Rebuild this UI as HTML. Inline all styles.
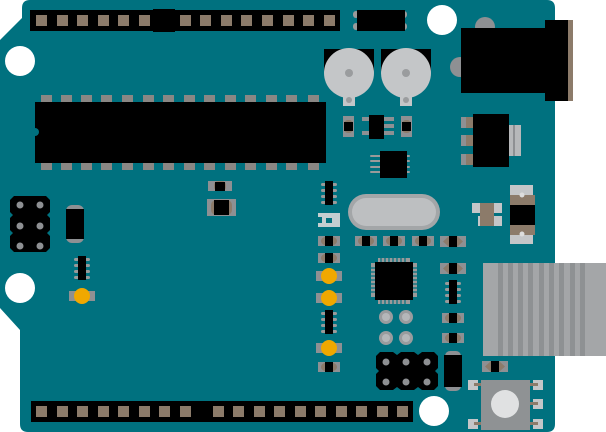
<!DOCTYPE html>
<html><head><meta charset="utf-8"><style>html,body{margin:0;padding:0;background:#fff}svg{display:block}</style></head><body>
<svg width="606" height="432" viewBox="0 0 606 432" xmlns="http://www.w3.org/2000/svg">
<defs>
<g id="pad"><rect x="0" y="0" width="11" height="11" fill="#8c7b6a"/></g>
<g id="res"><rect x="-11" y="-5" width="22" height="10" fill="#8e9093"/><ellipse cx="0" cy="0" rx="8" ry="5" fill="#8c7b6a"/><rect x="-4" y="-5" width="8" height="10" fill="#000"/></g>
<g id="capw"><rect x="-13" y="-5" width="26" height="11" fill="#8e9093"/><path d="M-10 0.5 L-4 -5 L4 -5 L10 0.5 L4 6 L-4 6Z" fill="#8c7b6a"/><rect x="-4" y="-5" width="8" height="11" fill="#000"/></g>
<g id="so"><rect x="-8" y="-10" width="5" height="3" rx="1.5" fill="#9a9a9a"/><rect x="-8" y="-4" width="5" height="3" rx="1.5" fill="#9a9a9a"/><rect x="-8" y="2" width="5" height="3" rx="1.5" fill="#9a9a9a"/><rect x="-8" y="8" width="5" height="3" rx="1.5" fill="#9a9a9a"/><rect x="3" y="-10" width="5" height="3" rx="1.5" fill="#9a9a9a"/><rect x="3" y="-4" width="5" height="3" rx="1.5" fill="#9a9a9a"/><rect x="3" y="2" width="5" height="3" rx="1.5" fill="#9a9a9a"/><rect x="3" y="8" width="5" height="3" rx="1.5" fill="#9a9a9a"/><rect x="-4" y="-12" width="8" height="24" fill="#000"/></g>
<g id="led"><rect x="-13" y="-5" width="26" height="10" fill="#8e9093"/><circle cx="0" cy="0" r="8" fill="#f0a800"/></g>
</defs>
<!-- board -->
<path d="M30 0 L547 0 Q555 0 555 8 L555 424 Q555 432 547 432 L28 432 Q20 432 20 424 L20 330 L0 308 L0 40 L22 18 L22 8 Q22 0 30 0Z" fill="#00717f"/>
<!-- holes -->
<circle cx="20" cy="61" r="15" fill="#fff"/>
<circle cx="442" cy="20" r="15" fill="#fff"/>
<circle cx="20" cy="288" r="15" fill="#fff"/>
<circle cx="434" cy="411" r="15" fill="#fff"/>
<!-- top header -->
<rect x="30" y="10" width="310" height="21" fill="#000"/>
<rect x="153" y="9" width="22" height="23" fill="#000"/>
<g>
<use href="#pad" x="36" y="15"/><use href="#pad" x="57" y="15"/><use href="#pad" x="77" y="15"/><use href="#pad" x="98" y="15"/><use href="#pad" x="118" y="15"/><use href="#pad" x="139" y="15"/>
<use href="#pad" x="180" y="15"/><use href="#pad" x="200" y="15"/><use href="#pad" x="221" y="15"/><use href="#pad" x="241" y="15"/><use href="#pad" x="262" y="15"/><use href="#pad" x="283" y="15"/><use href="#pad" x="303" y="15"/><use href="#pad" x="324" y="15"/>
</g>
<!-- bottom header -->
<rect x="31" y="401" width="382" height="21" fill="#000"/>
<g>
<use href="#pad" x="36" y="406"/><use href="#pad" x="57" y="406"/><use href="#pad" x="77" y="406"/><use href="#pad" x="98" y="406"/><use href="#pad" x="118" y="406"/><use href="#pad" x="139" y="406"/><use href="#pad" x="159" y="406"/><use href="#pad" x="180" y="406"/>
<use href="#pad" x="213" y="406"/><use href="#pad" x="233" y="406"/><use href="#pad" x="254" y="406"/><use href="#pad" x="274" y="406"/><use href="#pad" x="295" y="406"/><use href="#pad" x="315" y="406"/><use href="#pad" x="336" y="406"/><use href="#pad" x="356" y="406"/><use href="#pad" x="377" y="406"/><use href="#pad" x="397" y="406"/>
</g>
<!-- top small part near header -->
<rect x="353" y="11" width="6" height="7" rx="3" fill="#9a9a9a"/><rect x="353" y="23" width="6" height="7" rx="3" fill="#9a9a9a"/>
<rect x="401" y="11" width="6" height="7" rx="3" fill="#9a9a9a"/><rect x="401" y="23" width="6" height="7" rx="3" fill="#9a9a9a"/>
<rect x="357" y="10" width="48" height="21" fill="#000"/>
<!-- main chip pins -->
<g fill="#8a8784">
<rect x="41" y="95" width="11" height="8"/><rect x="61" y="95" width="11" height="8"/><rect x="81" y="95" width="11" height="8"/><rect x="101" y="95" width="11" height="8"/><rect x="122" y="95" width="11" height="8"/><rect x="143" y="95" width="11" height="8"/><rect x="163" y="95" width="11" height="8"/><rect x="184" y="95" width="11" height="8"/><rect x="204" y="95" width="11" height="8"/><rect x="225" y="95" width="11" height="8"/><rect x="245" y="95" width="11" height="8"/><rect x="266" y="95" width="11" height="8"/><rect x="286" y="95" width="11" height="8"/><rect x="308" y="95" width="11" height="8"/>
<rect x="41" y="162" width="11" height="8"/><rect x="61" y="162" width="11" height="8"/><rect x="81" y="162" width="11" height="8"/><rect x="101" y="162" width="11" height="8"/><rect x="122" y="162" width="11" height="8"/><rect x="143" y="162" width="11" height="8"/><rect x="163" y="162" width="11" height="8"/><rect x="184" y="162" width="11" height="8"/><rect x="204" y="162" width="11" height="8"/><rect x="225" y="162" width="11" height="8"/><rect x="245" y="162" width="11" height="8"/><rect x="266" y="162" width="11" height="8"/><rect x="286" y="162" width="11" height="8"/><rect x="308" y="162" width="11" height="8"/>
</g>
<rect x="35" y="102" width="291" height="61" fill="#000"/>
<circle cx="35" cy="132" r="4" fill="#00717f"/>
<!-- capacitors -->
<rect x="324" y="49" width="50" height="22" fill="#000"/>
<rect x="381" y="49" width="50" height="22" fill="#000"/>
<rect x="343" y="92" width="12" height="14" fill="#c4c6c8"/><rect x="400" y="92" width="12" height="14" fill="#c4c6c8"/>
<circle cx="349" cy="73" r="25" fill="#c4c6c8"/><circle cx="349" cy="73" r="4" fill="#9a9c9e"/><circle cx="349" cy="100" r="3" fill="#9a9c9e"/>
<circle cx="406" cy="73" r="25" fill="#c4c6c8"/><circle cx="406" cy="73" r="4" fill="#9a9c9e"/><circle cx="406" cy="100" r="3" fill="#9a9c9e"/>
<!-- power jack -->
<circle cx="485" cy="27" r="10" fill="#8e9093"/>
<circle cx="460" cy="67" r="10" fill="#8e9093"/>
<rect x="461" y="28" width="84" height="65" fill="#000"/>
<rect x="545" y="20" width="23" height="81" fill="#000"/>
<rect x="568" y="20" width="5" height="81" fill="#8c7b6a"/>
<!-- regulator -->
<g fill="#8e9093"><rect x="461" y="117" width="12" height="11"/><rect x="461" y="135" width="12" height="11"/><rect x="461" y="154" width="12" height="11"/></g>
<g fill="#8c7b6a"><rect x="466" y="117" width="7" height="11"/><rect x="466" y="135" width="7" height="11"/><rect x="466" y="154" width="7" height="11"/></g>
<rect x="509" y="125" width="12" height="31" fill="#b6b8ba"/><rect x="513" y="125" width="2" height="31" fill="#8e9093"/>
<rect x="473" y="114" width="36" height="53" fill="#000"/>
<!-- small parts near caps -->
<rect x="343" y="116" width="11" height="21" fill="#8e9093"/><rect x="344" y="120" width="9" height="13" rx="4" fill="#8c7b6a"/><rect x="344" y="122" width="9" height="9" fill="#000"/>
<rect x="401" y="116" width="11" height="21" fill="#8e9093"/><rect x="402" y="120" width="9" height="13" rx="4" fill="#8c7b6a"/><rect x="402" y="122" width="9" height="9" fill="#000"/>
<g fill="#8e9093"><rect x="362" y="117" width="11" height="4"/><rect x="362" y="131" width="11" height="4"/><rect x="383" y="117" width="11" height="4"/><rect x="383" y="124" width="11" height="4"/><rect x="383" y="131" width="11" height="4"/></g>
<rect x="369" y="115" width="15" height="24" fill="#000"/>
<g fill="#9a9a9a"><rect x="370" y="155" width="40" height="2" rx="1"/><rect x="370" y="160" width="40" height="2" rx="1"/><rect x="370" y="166" width="40" height="2" rx="1"/><rect x="370" y="171" width="40" height="2" rx="1"/></g>
<rect x="380" y="151" width="27" height="27" fill="#000"/>
<!-- caps -->
<rect x="208" y="181" width="24" height="10" fill="#8e9093"/><rect x="214" y="181" width="12" height="10" rx="4" fill="#8c7b6a"/><rect x="215" y="182" width="10" height="9" fill="#000"/>
<rect x="207" y="199" width="29" height="17" fill="#8e9093"/><rect x="211" y="200" width="21" height="15" rx="5" fill="#8c7b6a"/><rect x="214" y="200" width="15" height="15" fill="#000"/>
<use href="#so" x="329" y="193"/>
<path d="M318 213 h22 v14 h-22 v-4 h4 v-6 h-4z" fill="#c4ced0"/><rect x="326" y="218" width="6" height="5" fill="#00717f"/>
<!-- crystal -->
<rect x="348" y="194" width="92" height="36" rx="18" fill="#a3a6a8"/>
<rect x="352" y="198" width="84" height="28" rx="14" fill="#bdbfc1"/>
<!-- resistor row -->
<use href="#res" x="329" y="241"/><use href="#res" x="366" y="241"/><use href="#res" x="394" y="241"/><use href="#res" x="423" y="241"/><use href="#capw" x="453" y="241"/>
<use href="#res" x="329" y="258"/>
<use href="#capw" x="453" y="268"/>
<!-- LEDs -->
<use href="#led" x="329" y="276"/><use href="#led" x="329" y="298"/><use href="#led" x="329" y="348"/><use href="#led" x="82" y="296"/>
<use href="#so" x="329" y="322"/>
<use href="#res" x="329" y="367"/>
<!-- QFP -->
<g fill="#9a9a9a">
<rect x="378" y="258" width="32" height="46"/>
<rect x="371" y="263" width="46" height="34"/>
</g>
<g stroke="#00717f" stroke-width="1.2">
<path d="M381 258v5M385 258v5M389 258v5M393 258v5M397 258v5M401 258v5M405 258v5M381 299v5M385 299v5M389 299v5M393 299v5M397 299v5M401 299v5M405 299v5M371 268h5M371 272h5M371 276h5M371 280h5M371 284h5M371 288h5M371 292h5M412 268h5M412 272h5M412 276h5M412 280h5M412 284h5M412 288h5M412 292h5"/>
</g>
<rect x="375" y="262" width="38" height="38" fill="#000"/>
<!-- test pads -->
<g fill="#9a9c9e"><circle cx="386" cy="317" r="7"/><circle cx="406" cy="317" r="7"/><circle cx="386" cy="338" r="7"/><circle cx="406" cy="338" r="7"/></g>
<g fill="#b5b7b9"><circle cx="386" cy="317" r="4"/><circle cx="406" cy="317" r="4"/><circle cx="386" cy="338" r="4"/><circle cx="406" cy="338" r="4"/></g>
<!-- right column parts -->
<use href="#so" x="453" y="292"/>
<use href="#res" x="453" y="318"/>
<use href="#res" x="453" y="338"/>
<rect x="445" y="351" width="16" height="40" rx="5" fill="#8e9093"/>
<rect x="444" y="355" width="18" height="32" fill="#000"/>
<use href="#capw" x="495" y="366"/>
<!-- ICSP bottom -->
<path d="M380 352 h13 l4 3 l4 -3 h13 l4 3 l4 -3 h12 l4 4 v12 l-3 3 l3 3 v12 l-4 4 h-12 l-4 -3 l-4 3 h-13 l-4 -3 l-4 3 h-13 l-4 -4 v-12 l3 -3 l-3 -3 v-12z" fill="#000"/>
<g fill="#8e9093">
<circle cx="386" cy="362" r="3.5"/><circle cx="406" cy="362" r="3.5"/><circle cx="427" cy="362" r="3.5"/>
<circle cx="386" cy="382" r="3.5"/><circle cx="406" cy="382" r="3.5"/><circle cx="427" cy="382" r="3.5"/>
</g>
<!-- ICSP left -->
<path d="M14 196 h32 l4 4 v12 l-3 3 l3 3 v12 l-3 3 l3 3 v12 l-4 4 h-32 l-4 -4 v-12 l3 -3 l-3 -3 v-12 l3 -3 l-3 -3 v-12z" fill="#000"/>
<g fill="#8e9093">
<circle cx="20" cy="205" r="3.5"/><circle cx="40" cy="205" r="3.5"/><circle cx="20" cy="226" r="3.5"/><circle cx="40" cy="226" r="3.5"/><circle cx="20" cy="246" r="3.5"/><circle cx="40" cy="246" r="3.5"/>
</g>
<!-- left vertical part -->
<rect x="66" y="205" width="18" height="38" rx="6" fill="#8e9093"/>
<rect x="66" y="209" width="18" height="30" fill="#000"/>
<use href="#so" x="82" y="268"/>
<!-- diode/transistor right -->
<rect x="472" y="203" width="30" height="10" fill="#c4c6c8"/><rect x="478" y="216" width="24" height="10" fill="#c4c6c8"/>
<rect x="480" y="203" width="14" height="23" fill="#8c7b6a"/>
<rect x="510" y="185" width="23" height="10" fill="#c4c6c8"/><rect x="510" y="234" width="23" height="10" fill="#c4c6c8"/>
<rect x="510" y="195" width="25" height="40" fill="#8c7b6a"/>
<rect x="510" y="205" width="25" height="20" fill="#000"/>
<circle cx="522" cy="195" r="2.5" fill="#ddd"/><circle cx="522" cy="234" r="2.5" fill="#ddd"/>
<!-- USB -->
<rect x="483" y="263" width="123" height="93" fill="#a4a6a8"/>
<g fill="#8e9193">
<rect x="498" y="263" width="5" height="93"/><rect x="508" y="263" width="5" height="93"/><rect x="518" y="263" width="5" height="93"/><rect x="528" y="263" width="5" height="93"/><rect x="539" y="263" width="5" height="93"/><rect x="549" y="263" width="5" height="93"/><rect x="559" y="263" width="5" height="93"/><rect x="570" y="263" width="5" height="93"/><rect x="580" y="263" width="5" height="93"/>
</g>
<!-- button -->
<g fill="#c4c6c8"><rect x="468" y="380" width="10" height="10"/><rect x="468" y="419" width="10" height="10"/><rect x="533" y="380" width="10" height="10"/><rect x="533" y="399" width="10" height="10"/><rect x="533" y="419" width="10" height="10"/></g>
<g fill="#8c7b6a"><rect x="474" y="383" width="14" height="3"/><rect x="474" y="422" width="14" height="3"/><rect x="524" y="383" width="14" height="3"/><rect x="524" y="402" width="14" height="3"/><rect x="524" y="422" width="14" height="3"/></g>
<rect x="481" y="380" width="49" height="50" fill="#8f9294"/>
<circle cx="505" cy="404" r="14" fill="#e0e1e2"/>
</svg>
</body></html>
